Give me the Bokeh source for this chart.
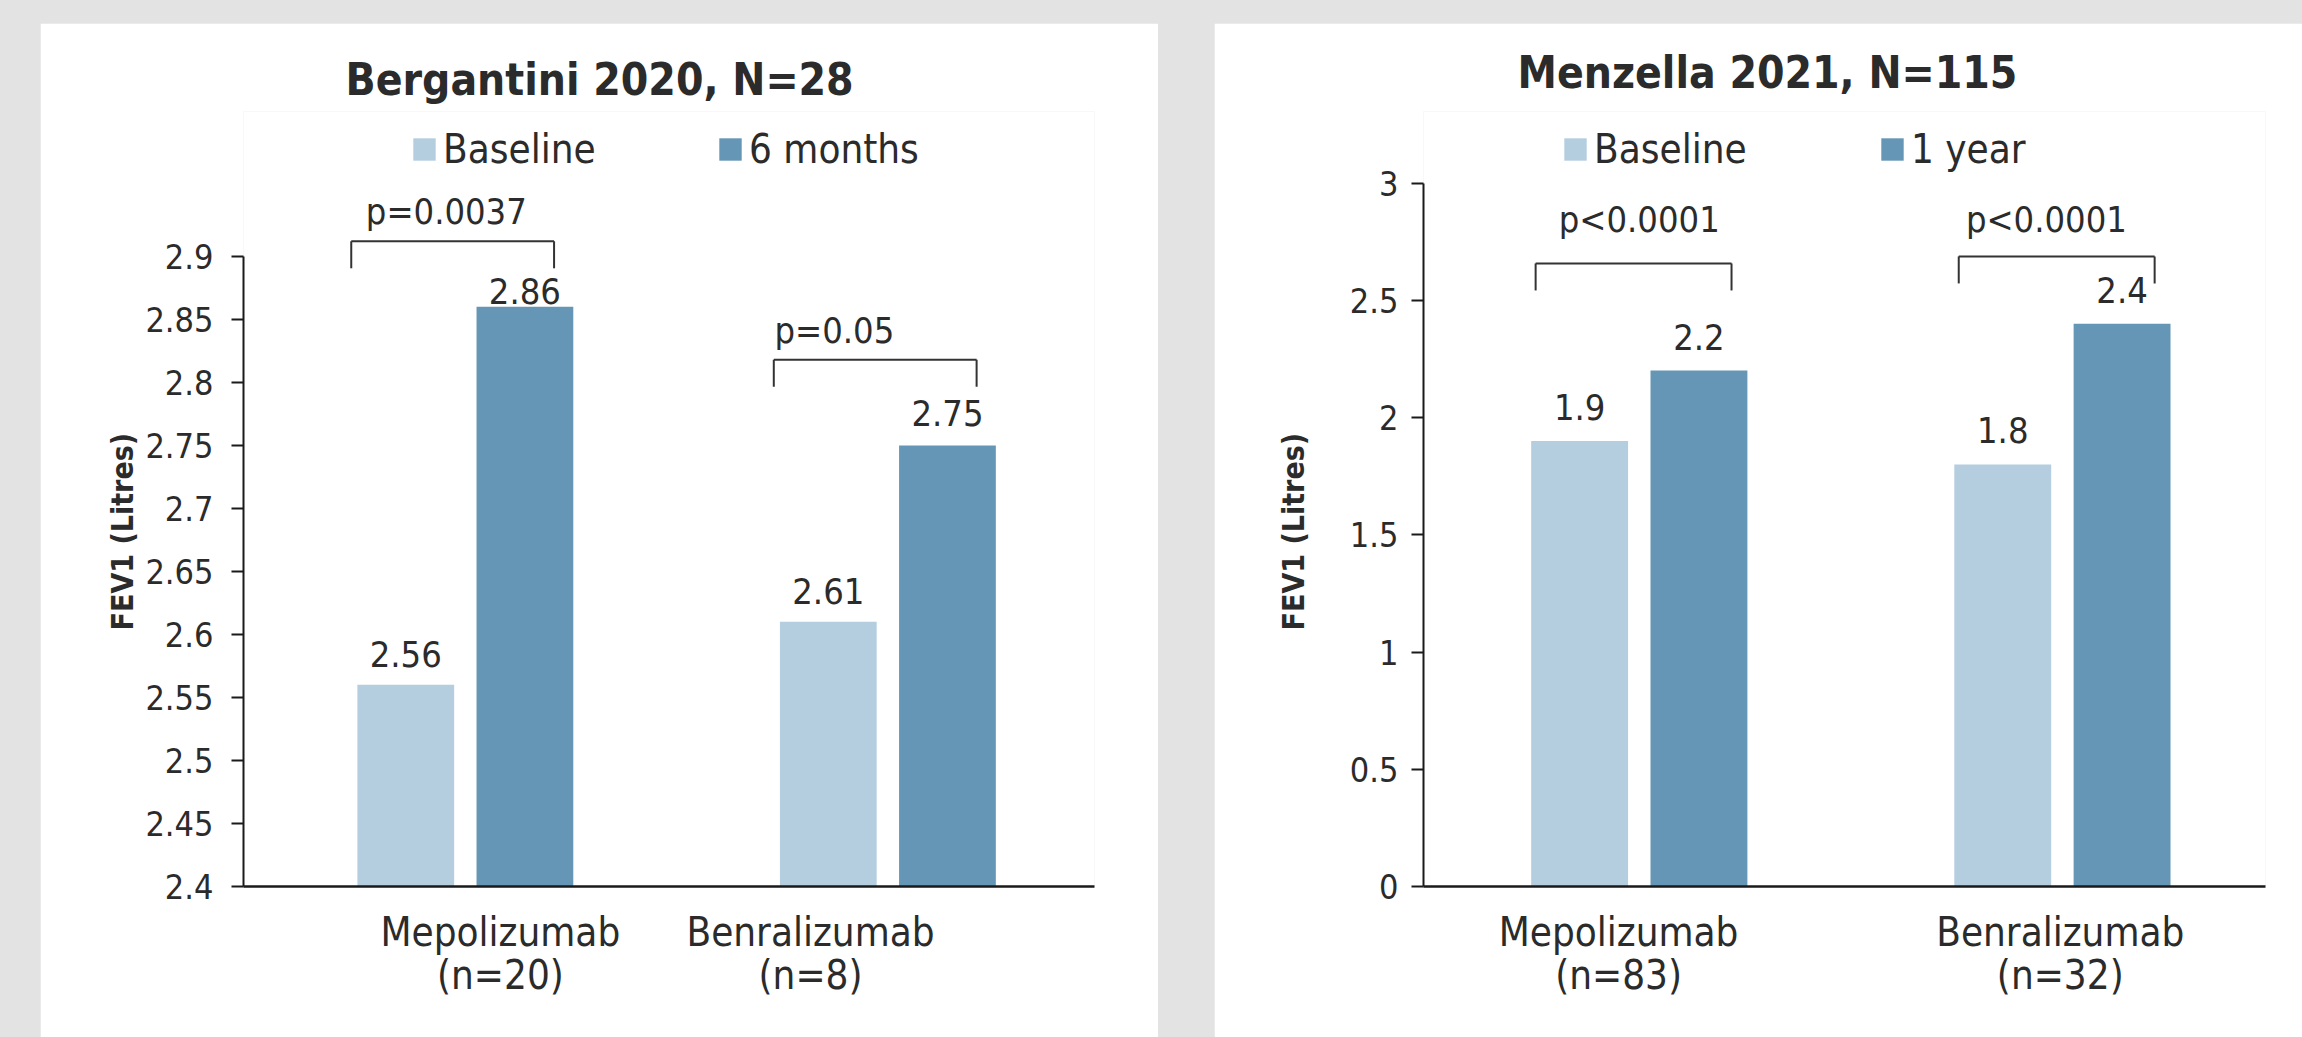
import math
from bokeh.plotting import figure
from bokeh.models import (ColumnDataSource, Range1d, FixedTicker, LabelSet, Legend,
                          LegendItem, Spacer, Title)
from bokeh.layouts import row, column
from bokeh.core.properties import value
from bokeh.embed import file_html
from bokeh.resources import INLINE

# ---------------- data ----------------
left_title = "Bergantini 2020, N=28"
left_groups = ["Mepolizumab", "Benralizumab"]
left_group_n = ["(n=20)", "(n=8)"]
left_series = ["Baseline", "6 months"]
left_baseline = [2.56, 2.61]
left_followup = [2.86, 2.75]
left_pvalues = ["p=0.0037", "p=0.05"]
left_bracket_level = [2.912, 2.818]
left_pvalue_level = [2.926, 2.831]
left_ticks = [2.4, 2.45, 2.5, 2.55, 2.6, 2.65, 2.7, 2.75, 2.8, 2.85, 2.9]
left_tick_labels = ["2.4", "2.45", "2.5", "2.55", "2.6", "2.65", "2.7", "2.75", "2.8", "2.85", "2.9"]

right_title = "Menzella 2021, N=115"
right_groups = ["Mepolizumab", "Benralizumab"]
right_group_n = ["(n=83)", "(n=32)"]
right_series = ["Baseline", "1 year"]
right_baseline = [1.9, 1.8]
right_followup = [2.2, 2.4]
right_pvalues = ["p<0.0001", "p<0.0001"]
right_bracket_level = [2.657, 2.687]
right_pvalue_level = [2.79, 2.79]
right_ticks = [0, 0.5, 1, 1.5, 2, 2.5, 3]
right_tick_labels = ["0", "0.5", "1", "1.5", "2", "2.5", "3"]

y_label = "FEV1 (Litres)"

# ---------------- style ----------------
FONT = "Noto Sans Condensed, DejaVu Sans Condensed"
TXT = "#2b2b2b"
AX = "#1a1a1a"
C_BASE = "#b4cee0"
C_FOLLOW = "#6696b5"
GREY = "#e3e3e3"

left_style = dict(width=1118, height=1014, mb_left=203, mb_right=64, mb_top=88, mb_bottom=151,
                  x_range=(-0.525, 1.489), y_range=(2.4, 3.015), y_bounds=(2.4, 2.9),
                  tick_standoff=18, ylab_standoff=5, ylab_offset=256,
                  title_offset=102, title_standoff=14,
                  legend_loc=(167, 714), legend_label_width=273,
                  cat_shift=[0.083, -0.183], p_dx=[-19, -53.5],
                  span=(-0.27, 0.21), base_dy=[18, 18], follow_dy=[3, 19])
right_style = dict(width=1088, height=1014, mb_left=209, mb_right=37, mb_top=88, mb_bottom=151,
                   x_range=(-0.51, 1.48), y_range=(0, 3.305), y_bounds=(0, 3),
                   tick_standoff=13, ylab_standoff=71, ylab_offset=256,
                   title_offset=94, title_standoff=28,
                   legend_loc=(138, 714), legend_label_width=284,
                   cat_shift=[-0.049, -0.005], p_dx=[0, -16],
                   span=(-0.245, 0.218), base_dy=[21, 21], follow_dy=[21, 21])

DODGE = 0.141
BAR_W = 0.229


def make_panel(title, groups, group_n, series, base, follow, pvals, br_level, p_level,
               ticks, tick_labels, st):
    p = figure(width=st["width"], height=st["height"], output_backend="svg",
               toolbar_location=None, x_range=Range1d(*st["x_range"]),
               y_range=Range1d(*st["y_range"]), min_border_left=st["mb_left"],
               min_border_right=st["mb_right"], min_border_top=st["mb_top"],
               min_border_bottom=st["mb_bottom"], title=title)
    p.background_fill_color = "white"
    p.border_fill_color = "white"
    p.outline_line_color = None
    p.grid.visible = False

    p.title.text_font = FONT
    p.title.text_font_size = "44px"
    p.title.text_font_style = "bold"
    p.title.text_color = TXT
    p.title.align = "left"
    p.title.offset = st["title_offset"]
    p.title.standoff = st["title_standoff"]

    gx = list(range(len(groups)))
    src_b = ColumnDataSource(dict(x=[g - DODGE for g in gx], top=base,
                                  lab=[f"{v:g}" for v in base], dy=st["base_dy"]))
    src_f = ColumnDataSource(dict(x=[g + DODGE for g in gx], top=follow,
                                  lab=[f"{v:g}" for v in follow], dy=st["follow_dy"]))
    y0 = st["y_range"][0]
    r_b = p.vbar(x="x", top="top", bottom=y0, width=BAR_W, source=src_b,
                 fill_color=C_BASE, line_color=None)
    r_f = p.vbar(x="x", top="top", bottom=y0, width=BAR_W, source=src_f,
                 fill_color=C_FOLLOW, line_color=None)

    for src in (src_b, src_f):
        p.add_layout(LabelSet(x="x", y="top", text="lab", y_offset="dy", source=src,
                              text_align="center", text_baseline="alphabetic",
                              text_font=value(FONT), text_font_size=value("36px"),
                              text_color=TXT))

    # y axis
    yax = p.yaxis[0]
    yax.ticker = FixedTicker(ticks=ticks)
    yax.major_label_overrides = {t: l for t, l in zip(ticks, tick_labels)}
    yax.bounds = st["y_bounds"]
    yax.axis_line_color = AX
    yax.axis_line_width = 2
    yax.major_tick_line_color = AX
    yax.major_tick_line_width = 2
    yax.major_tick_out = 12
    yax.major_tick_in = 0
    yax.minor_tick_line_color = None
    yax.major_label_text_font = FONT
    yax.major_label_text_font_size = "34px"
    yax.major_label_text_color = TXT
    yax.major_label_standoff = st["tick_standoff"]

    # y axis title, placed beside the axis
    ytitle = Title(text=y_label, align="left", offset=st["ylab_offset"],
                   standoff=st["ylab_standoff"], text_font=FONT, text_font_size="30px",
                   text_font_style="bold", text_color=TXT)
    p.add_layout(ytitle, "left")

    # x axis: category labels as tick labels
    cat_ticks = [g + s for g, s in zip(gx, st["cat_shift"])]
    xax = p.xaxis[0]
    xax.ticker = FixedTicker(ticks=cat_ticks)
    xax.major_label_overrides = {t: f"{g}\n{n}" for t, g, n in zip(cat_ticks, groups, group_n)}
    xax.axis_line_color = AX
    xax.axis_line_width = 2.5
    xax.major_tick_line_color = None
    xax.minor_tick_line_color = None
    xax.major_tick_out = 0
    xax.major_tick_in = 0
    xax.major_label_standoff = 22
    xax.major_label_text_font = FONT
    xax.major_label_text_font_size = "40px"
    xax.major_label_text_color = TXT
    xax.major_label_text_line_height = 0.95
    xax.major_label_orientation = "horizontal"

    # significance brackets
    s0, s1 = st["span"]
    xa = [g + s0 for g in gx]
    xb = [g + s1 for g in gx]
    p.segment(x0=xa, y0=br_level, x1=xb, y1=br_level, line_color="#333333", line_width=2)
    p.ray(x=xa + xb, y=br_level + br_level, length=27, length_units="screen",
          angle=-math.pi / 2, line_color="#333333", line_width=2)
    p_src = ColumnDataSource(dict(x=gx, y=p_level, t=pvals, dx=st["p_dx"]))
    p.add_layout(LabelSet(x="x", y="y", text="t", x_offset="dx", source=p_src,
                          text_align="center", text_baseline="alphabetic",
                          text_font=value(FONT), text_font_size=value("36px"),
                          text_color=TXT))

    legend = Legend(items=[LegendItem(label=series[0], renderers=[r_b]),
                           LegendItem(label=series[1], renderers=[r_f])],
                    orientation="horizontal", location=st["legend_loc"],
                    glyph_width=28, glyph_height=28, label_standoff=5, spacing=0,
                    label_width=st["legend_label_width"], padding=0, margin=0,
                    border_line_color=None, background_fill_alpha=0,
                    label_text_font=FONT, label_text_font_size="40px",
                    label_text_color=TXT)
    p.add_layout(legend, "center")
    return p


p1 = make_panel(left_title, left_groups, left_group_n, left_series, left_baseline,
                left_followup, left_pvalues, left_bracket_level, left_pvalue_level,
                left_ticks, left_tick_labels, left_style)
p2 = make_panel(right_title, right_groups, right_group_n, right_series, right_baseline,
                right_followup, right_pvalues, right_bracket_level, right_pvalue_level,
                right_ticks, right_tick_labels, right_style)

layout = column(
    Spacer(width=2302, height=23),
    row(Spacer(width=40, height=1014), p1, Spacer(width=56, height=1014), p2, spacing=0),
    spacing=0, styles={"background-color": GREY},
)

open("out.html", "w").write(file_html(layout, INLINE))
